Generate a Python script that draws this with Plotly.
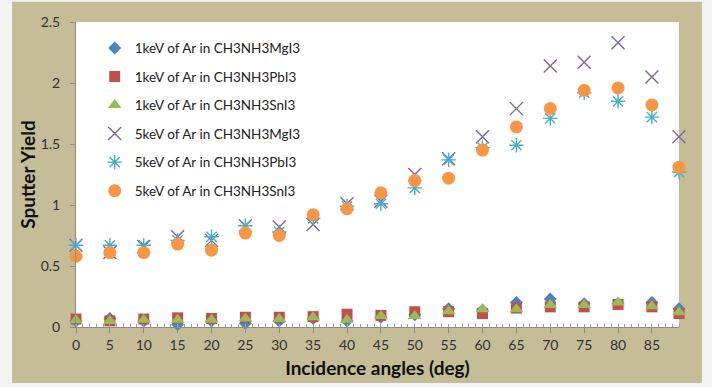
import plotly.graph_objects as go

angles = [0, 5, 10, 15, 20, 25, 30, 35, 40, 45, 50, 55, 60, 65, 70, 75, 80, 85, 89]

mg_1kev = [0.05, 0.07, 0.05, 0.02, 0.05, 0.03, 0.05, 0.07, 0.05, 0.08, 0.10, 0.15, 0.14, 0.20, 0.23, 0.19, 0.19, 0.20, 0.15]
pb_1kev = [0.065, 0.05, 0.065, 0.075, 0.07, 0.08, 0.08, 0.085, 0.105, 0.095, 0.125, 0.125, 0.11, 0.155, 0.165, 0.165, 0.185, 0.165, 0.11]
sn_1kev = [0.055, 0.05, 0.06, 0.06, 0.06, 0.07, 0.065, 0.08, 0.06, 0.09, 0.09, 0.13, 0.145, 0.145, 0.18, 0.18, 0.20, 0.17, 0.12]
mg_5kev = [0.67, 0.61, 0.66, 0.74, 0.71, 0.83, 0.82, 0.84, 1.01, 1.03, 1.25, 1.38, 1.56, 1.79, 2.14, 2.17, 2.33, 2.05, 1.56]
pb_5kev = [0.67, 0.67, 0.67, 0.71, 0.74, 0.83, 0.78, 0.89, 0.99, 1.01, 1.14, 1.37, 1.47, 1.49, 1.71, 1.92, 1.85, 1.72, 1.27]
sn_5kev = [0.58, 0.61, 0.61, 0.68, 0.63, 0.77, 0.75, 0.92, 0.97, 1.10, 1.20, 1.22, 1.45, 1.64, 1.79, 1.94, 1.96, 1.82, 1.31]

names = [
    "1keV of Ar in CH3NH3MgI3",
    "1keV of Ar in CH3NH3PbI3",
    "1keV of Ar in CH3NH3SnI3",
    "5keV of Ar in CH3NH3MgI3",
    "5keV of Ar in CH3NH3PbI3",
    "5keV of Ar in CH3NH3SnI3",
]
x_ticks = [0, 5, 10, 15, 20, 25, 30, 35, 40, 45, 50, 55, 60, 65, 70, 75, 80, 85]
y_ticks = [0, 0.5, 1, 1.5, 2, 2.5]
y_tick_text = ["0", "0.5", "1", "1.5", "2", "2.5"]

series = [mg_1kev, pb_1kev, sn_1kev, mg_5kev, pb_5kev, sn_5kev]
styles = [
    dict(symbol="diamond", size=10, color="#4F81BD"),
    dict(symbol="square", size=11, color="#C0504D"),
    dict(symbol="triangle-up", size=12, color="#9BBB59"),
    dict(symbol="x-thin-open", size=13, color="#8064A2", line=dict(width=1.4, color="#8064A2")),
    dict(symbol="asterisk-open", size=12, color="#4BACC6", line=dict(width=1.4, color="#4BACC6")),
    dict(symbol="circle", size=13, color="#F79646"),
]

fig = go.Figure()
for i, (name, ys, st) in enumerate(zip(names, series, styles)):
    fig.add_trace(go.Scatter(
        x=angles, y=ys, mode="markers", name=name,
        legendgroup=f"g{i}", marker=st, cliponaxis=False,
    ))

tan = "#C4BD97"
fig.update_layout(
    width=712, height=387,
    margin=dict(l=76, r=33, t=22, b=60),
    paper_bgcolor="#f3f3f3",
    plot_bgcolor="white",
    font=dict(family="Lato, Open Sans, sans-serif", color="#404040", size=12),
    showlegend=True,
    legend=dict(
        x=0.031, y=0.965, xanchor="left", yanchor="top",
        bgcolor="rgba(0,0,0,0)", font=dict(size=13.5, color="#222222"),
        tracegroupgap=8, itemwidth=30,
    ),
    shapes=[
        dict(type="rect", xref="paper", yref="paper", x0=-0.106, x1=1.038,
             y0=-0.184, y1=1.066, fillcolor=tan, line=dict(width=0), layer="below"),
        dict(type="rect", xref="paper", yref="paper", x0=0, x1=1,
             y0=0, y1=1, fillcolor="white", line=dict(width=0), layer="below"),
    ],
    xaxis=dict(
        range=[0, 89], tickvals=x_ticks, ticktext=[str(v) for v in x_ticks],
        showgrid=False, zeroline=False, showline=True, linecolor="#8c8c8c", linewidth=1,
        ticks="outside", ticklen=5, tickcolor="#8c8c8c", automargin=False,
        minor=dict(dtick=1, ticks="inside", ticklen=3, tickcolor="#a0a0a0", showgrid=False),
        tickfont=dict(size=14, color="#333333"),
        title=dict(text="<b>Incidence angles (deg)</b>", font=dict(size=19, color="#111111"), standoff=9),
    ),
    yaxis=dict(
        range=[0, 2.5], tickvals=y_ticks, ticktext=y_tick_text,
        showgrid=False, zeroline=False, showline=True, linecolor="#8c8c8c", linewidth=1,
        ticks="outside", ticklen=5, tickcolor="#8c8c8c", automargin=False,
        ticklabelstandoff=7,
        tickfont=dict(size=14, color="#333333"),
        title=dict(text="<b>Sputter Yield</b>", font=dict(size=19, color="#111111"), standoff=0),
    ),
)

fig.write_html("out.html", config={"displayModeBar": False},
               post_script="document.body.style.margin='0';")
